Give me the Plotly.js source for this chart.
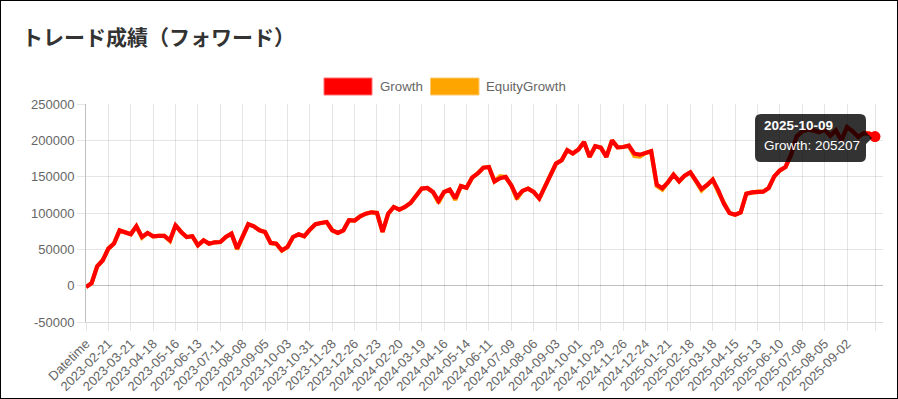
<!DOCTYPE html>
<html>
<head>
<meta charset="utf-8">
<script src="https://cdn.plot.ly/plotly-3.0.1.min.js"></script>
<style>
html,body{margin:0;padding:0;background:#fff;}
#wrap{position:relative;width:898px;height:399px;}
#chart{width:898px;height:399px;}
#frame{position:absolute;left:0;top:0;width:898px;height:399px;border:1px solid #000;box-sizing:border-box;pointer-events:none;}
</style>
</head>
<body>
<div id="wrap"><div id="chart"></div><div id="frame"></div></div>
<script>
const chartTitle = "トレード成績（フォワード）";
const seriesNames = ["Growth", "EquityGrowth"];

const categories = ["Datetime",
"2023-01-31","2023-02-07","2023-02-14","2023-02-21","2023-02-28","2023-03-07","2023-03-14","2023-03-21","2023-03-28","2023-04-04","2023-04-11","2023-04-18","2023-04-25","2023-05-02","2023-05-09","2023-05-16","2023-05-23","2023-05-30","2023-06-06","2023-06-13","2023-06-20","2023-06-27","2023-07-04","2023-07-11","2023-07-18","2023-07-25","2023-08-01","2023-08-08","2023-08-15","2023-08-22","2023-08-29","2023-09-05","2023-09-12","2023-09-19","2023-09-26","2023-10-03","2023-10-10","2023-10-17","2023-10-24","2023-10-31","2023-11-07","2023-11-14","2023-11-21","2023-11-28","2023-12-05","2023-12-12","2023-12-19","2023-12-26",
"2024-01-02","2024-01-09","2024-01-16","2024-01-23","2024-01-30","2024-02-06","2024-02-13","2024-02-20","2024-02-27","2024-03-05","2024-03-12","2024-03-19","2024-03-26","2024-04-02","2024-04-09","2024-04-16","2024-04-23","2024-04-30","2024-05-07","2024-05-14","2024-05-21","2024-05-28","2024-06-04","2024-06-11","2024-06-18","2024-06-25","2024-07-02","2024-07-09","2024-07-16","2024-07-23","2024-07-30","2024-08-06","2024-08-13","2024-08-20","2024-08-27","2024-09-03","2024-09-10","2024-09-17","2024-09-24","2024-10-01","2024-10-08","2024-10-15","2024-10-22","2024-10-29","2024-11-05","2024-11-12","2024-11-19","2024-11-26","2024-12-03","2024-12-10","2024-12-17","2024-12-24","2024-12-31",
"2025-01-07","2025-01-14","2025-01-21","2025-01-28","2025-02-04","2025-02-11","2025-02-18","2025-02-25","2025-03-04","2025-03-11","2025-03-18","2025-03-25","2025-04-01","2025-04-08","2025-04-15","2025-04-22","2025-04-29","2025-05-06","2025-05-13","2025-05-20","2025-05-27","2025-06-03","2025-06-10","2025-06-17","2025-06-24","2025-07-01","2025-07-08","2025-07-15","2025-07-22","2025-07-29","2025-08-05","2025-08-12","2025-08-19","2025-08-26","2025-09-02","2025-09-09","2025-09-16","2025-09-23","2025-09-30","2025-10-09"];

const growth = [
-2000, 3500, 26600, 35000, 51000, 58000, 76000, 73900, 70700, 81700,
67000, 72500, 68000, 68400, 68400, 62400, 83000, 73900, 67000, 68000,
55500, 62400, 57800, 59700, 60100, 67000, 71600, 51000, 68000, 84500,
81700, 76200, 73900, 58800, 57800, 48700, 53200, 67000, 70700, 68000,
77100, 84500, 86300, 87700, 76200, 72500, 76200, 90000, 89500, 95500,
99100, 101000, 100000, 73900, 99100, 108300, 104700, 108300, 113800, 124400,
133600, 134500, 128900, 116600, 128900, 132100, 120000, 137000, 134800, 148600,
154500, 162400, 163300, 143500, 148000, 149600, 138200, 122100, 130400, 133600,
129000, 119900, 136000, 154300, 168000, 172600, 186400, 181800, 187300, 197800,
177200, 191900, 190000, 177200, 200000, 190500, 190800, 192600, 181600, 180300,
182600, 184900, 139000, 134000, 142200, 152700, 143600, 151400, 156000, 143600,
133000, 138500, 145900, 131200, 112800, 100000, 97700, 100900, 126600, 128400,
129300, 129300, 134400, 150400, 158700, 163300, 180300, 205500, 212400, 214700,
213700, 211000, 214700, 206400, 213700, 200000, 218300, 212400, 204600, 210000,
209200, 205207];

const equityGrowth = [
-2000, 3500, 26600, 35000, 51000, 58000, 76000, 73900, 70700, 81700,
66000, 72500, 68000, 68400, 68400, 61500, 83000, 73900, 67000, 68000,
55500, 62400, 57800, 59700, 60100, 67000, 71600, 50000, 68000, 84500,
81700, 76200, 73900, 58800, 57800, 48000, 53200, 67000, 70700, 68000,
77100, 84500, 86300, 87700, 76200, 72500, 76200, 90000, 89500, 95500,
99100, 101000, 100000, 73900, 99100, 108300, 104700, 108300, 113800, 124400,
133600, 134500, 128900, 114000, 128900, 132100, 118000, 137000, 134800, 148600,
154500, 162400, 163300, 143500, 150500, 149600, 138200, 119000, 130400, 133600,
129000, 119900, 136000, 152000, 168000, 172600, 186400, 181800, 187300, 197800,
177200, 191900, 190000, 177200, 200000, 190500, 190800, 192600, 178500, 177500,
182600, 184900, 137000, 132000, 142200, 152700, 143600, 151400, 156000, 143600,
131000, 138500, 145900, 128500, 112800, 100000, 97700, 100900, 126600, 128400,
129300, 129300, 134400, 150400, 158700, 163300, 180300, 205500, 212400, 214700,
213700, 211000, 214700, 206400, 213700, 200000, 218300, 212400, 204600, 210000,
209200, 205207];

const xTickLabels = ["Datetime","2023-02-21","2023-03-21","2023-04-18","2023-05-16","2023-06-13","2023-07-11","2023-08-08","2023-09-05","2023-10-03","2023-10-31","2023-11-28","2023-12-26","2024-01-23","2024-02-20","2024-03-19","2024-04-16","2024-05-14","2024-06-11","2024-07-09","2024-08-06","2024-09-03","2024-10-01","2024-10-29","2024-11-26","2024-12-24","2025-01-21","2025-02-18","2025-03-18","2025-04-15","2025-05-13","2025-06-10","2025-07-08","2025-08-05","2025-09-02"];
const yTickValues = [-50000, 0, 50000, 100000, 150000, 200000, 250000];
const yTickLabels = ["-50000", "0", "50000", "100000", "150000", "200000", "250000"];

// ---- layout helpers (pixel -> paper) ----
const W = 898, H = 399;
const M = {l: 86, r: 15, t: 104, b: 77};
const PW = W - M.l - M.r, PH = H - M.t - M.b;
const px = x => (x - M.l) / PW;
const py = y => (H - M.b - y) / PH;

const last = categories.length - 1;
const font = "Liberation Sans, Arial, Helvetica, sans-serif";

const traces = [
  {x: categories, y: equityGrowth, name: seriesNames[1], type: "scatter", mode: "lines",
   line: {color: "#FFA500", width: 4.2}},
  {x: categories, y: growth, name: seriesNames[0], type: "scatter", mode: "lines",
   line: {color: "#FF0000", width: 4.2}},
  {x: [categories[last]], y: [growth[last]], type: "scatter", mode: "markers",
   marker: {color: "#FF0000", size: 11}, showlegend: false}
];

function roundedTip(x0, y0, x1, y1, r, tip) {
  const ym = (y0 + y1) / 2;
  const P = (x, y) => px(x) + "," + py(y);
  return "M" + P(x0 + r, y0) + " L" + P(x1 - r, y0) + " Q" + P(x1, y0) + " " + P(x1, y0 + r) +
    " L" + P(x1, ym - tip) + " L" + P(x1 + tip, ym) + " L" + P(x1, ym + tip) +
    " L" + P(x1, y1 - r) + " Q" + P(x1, y1) + " " + P(x1 - r, y1) +
    " L" + P(x0 + r, y1) + " Q" + P(x0, y1) + " " + P(x0, y1 - r) +
    " L" + P(x0, y0 + r) + " Q" + P(x0, y0) + " " + P(x0 + r, y0) + " Z";
}

const layout = {
  width: W, height: H,
  margin: M,
  paper_bgcolor: "#fff", plot_bgcolor: "#fff",
  showlegend: false,
  hovermode: false,
  title: {text: chartTitle, xref: "container", yref: "container",
          x: 22 / W, xanchor: "left", y: 1 - 38 / H, yanchor: "middle",
          font: {family: "Noto Sans CJK JP, sans-serif", size: 21, color: "#333", weight: 700}},
  xaxis: {
    type: "category", categoryorder: "array", categoryarray: categories,
    range: [0, last + (883 - 875) / ((875 - 86) / last)],
    tickmode: "array",
    tickvals: xTickLabels.concat([categories[last]]),
    ticktext: xTickLabels.concat([""]),
    tickangle: -45,
    tickfont: {family: font, size: 13, color: "#666"},
    showgrid: true, gridcolor: "rgba(0,0,0,0.1)", gridwidth: 1,
    ticks: "outside", ticklen: 8, tickcolor: "rgba(0,0,0,0.1)",
    showline: true, linecolor: "rgba(0,0,0,0.15)", linewidth: 1,
    zeroline: false, automargin: false, fixedrange: true
  },
  yaxis: {
    range: [-50000, 250000],
    tickmode: "array", tickvals: yTickValues, ticktext: yTickLabels,
    tickfont: {family: font, size: 13, color: "#666"},
    showgrid: true, gridcolor: "rgba(0,0,0,0.1)", gridwidth: 1,
    ticks: "outside", ticklen: 8, tickcolor: "rgba(0,0,0,0.1)",
    zeroline: true, zerolinecolor: "rgba(0,0,0,0.25)", zerolinewidth: 1,
    showline: true, linecolor: "rgba(0,0,0,0.25)", linewidth: 1,
    automargin: false, fixedrange: true
  },
  shapes: [
    {type: "rect", xref: "paper", yref: "paper", x0: px(324), x1: px(372), y0: py(95), y1: py(78),
     fillcolor: "#FF0000", line: {color: "rgba(255,110,110,1)", width: 1}},
    {type: "rect", xref: "paper", yref: "paper", x0: px(430.5), x1: px(479), y0: py(95), y1: py(78),
     fillcolor: "#FFA500", line: {color: "rgba(255,200,110,1)", width: 1}},
    {type: "path", xref: "paper", yref: "paper", layer: "above",
     path: roundedTip(755, 114, 866, 162, 6, 6),
     fillcolor: "rgba(0,0,0,0.8)", line: {width: 0}}
  ],
  annotations: [
    {xref: "paper", yref: "paper", x: px(377.5), y: py(86.5), xanchor: "left", yanchor: "middle",
     text: seriesNames[0], showarrow: false, font: {family: font, size: 13.3, color: "#666"}},
    {xref: "paper", yref: "paper", x: px(484), y: py(86.5), xanchor: "left", yanchor: "middle",
     text: seriesNames[1], showarrow: false, font: {family: font, size: 13.3, color: "#666"}},
    {xref: "paper", yref: "paper", x: px(762), y: py(126), xanchor: "left", yanchor: "middle",
     text: "<b>" + categories[last] + "</b>", showarrow: false,
     font: {family: font, size: 13.5, color: "#fff"}},
    {xref: "paper", yref: "paper", x: px(762), y: py(145.5), xanchor: "left", yanchor: "middle",
     text: seriesNames[0] + ": " + growth[last], showarrow: false,
     font: {family: font, size: 13.5, color: "#fff"}}
  ]
};

Plotly.newPlot("chart", traces, layout, {displayModeBar: false, staticPlot: true});
</script>
</body>
</html>
